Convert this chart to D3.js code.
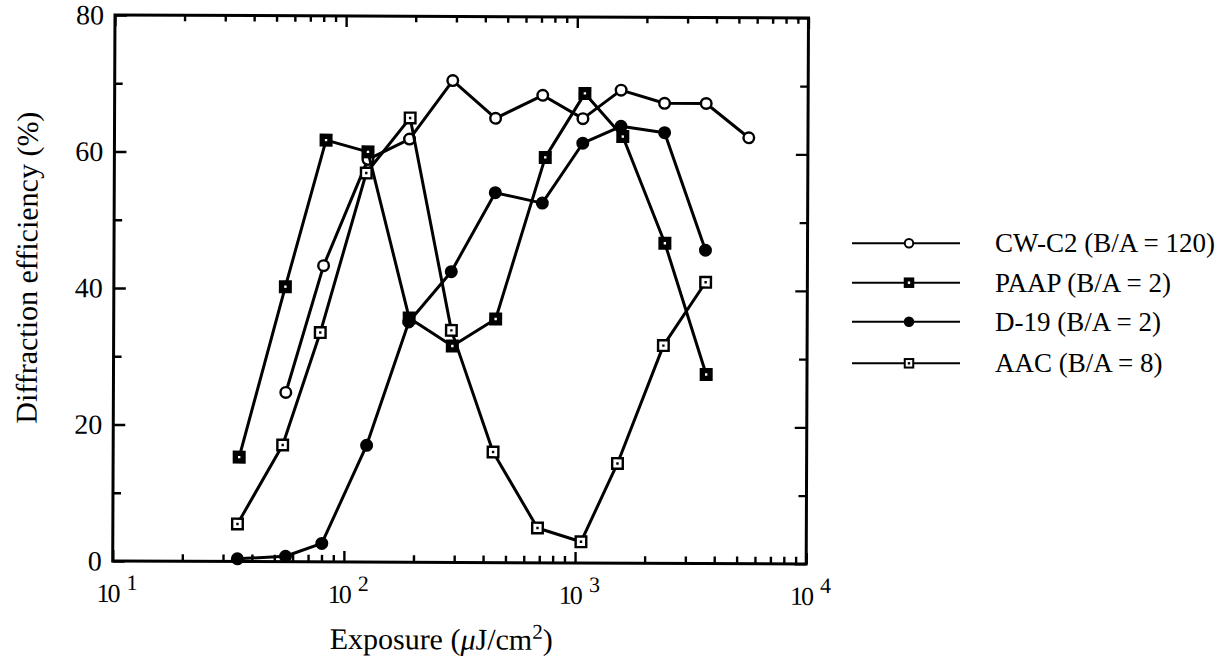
<!DOCTYPE html>
<html>
<head>
<meta charset="utf-8">
<script src="https://cdn.jsdelivr.net/npm/d3@7"></script>
<style>
  html, body { margin: 0; padding: 0; background: #fff; }
  svg { display: block; }
  text { font-family: "Liberation Serif", "Times New Roman", serif; fill: #000; }
</style>
</head>
<body>
<svg id="chart" width="1231" height="663"></svg>
<script>
// Exposure (µJ/cm²) and diffraction efficiency (%) for each material
const cwExposure   = [55.7, 80.7, 125, 189, 290, 445, 711, 1062, 1552, 2393, 3624, 5546];
const cwEfficiency = [24.8, 43.4, 59.0, 62.0, 70.6, 65.1, 68.5, 65.1, 69.3, 67.4, 67.4, 62.4];

const paapExposure   = [35.1, 55.2, 82.3, 125, 189.7, 292, 449, 731, 1082, 1581, 2415, 3664];
const paapEfficiency = [15.3, 40.3, 61.8, 60.1, 35.8, 31.7, 35.7, 59.4, 68.8, 62.5, 46.9, 27.7];

const d19Exposure   = [34.6, 55.9, 80.2, 124.8, 189, 288, 445, 711, 1062, 1552, 2397, 3620];
const d19Efficiency = [0.4, 0.8, 2.7, 17.1, 35.2, 42.6, 54.2, 52.7, 61.5, 64.0, 63.1, 45.9];

const aacExposure   = [34.6, 54.1, 78.3, 123, 190, 289, 440, 687, 1060, 1520, 2389, 3630];
const aacEfficiency = [5.5, 17.1, 33.6, 57.0, 65.1, 34.0, 16.2, 5.1, 3.1, 14.6, 31.9, 41.2];

const seriesNames = ["CW-C2 (B/A = 120)", "PAAP (B/A = 2)", "D-19 (B/A = 2)", "AAC (B/A = 8)"];
const markerKinds = ["openCircle", "filledSquare", "filledCircle", "openSquare"];

const xDomain = [10, 10000];
const yDomain = [0, 80];
const yTicks = [0, 10, 20, 30, 40, 50, 60, 70, 80];
const yLabelTicks = [0, 20, 40, 60, 80];
const xDecades = [10, 100, 1000, 10000];
const xExponents = ["1", "2", "3", "4"];
const yTitle = "Diffraction efficiency (%)";

const series = seriesNames.map((name, i) => ({
  name,
  kind: markerKinds[i],
  xs: [cwExposure, paapExposure, d19Exposure, aacExposure][i],
  ys: [cwEfficiency, paapEfficiency, d19Efficiency, aacEfficiency][i]
}));

const svg = d3.select("#chart");
const plotLeft = 112.7, plotRight = 806.2, plotTop = 15, plotBottom = 561;

const x = d3.scaleLog().domain(xDomain).range([plotLeft, plotRight]);
const y = d3.scaleLinear().domain(yDomain).range([plotBottom, plotTop]);

// the whole figure sits very slightly tilted
const root = svg.append("g").attr("transform", `rotate(0.24, ${plotLeft}, ${plotBottom})`);

// minor log ticks (2..9 within each decade)
const minorX = [];
for (let d = 10; d < 10000; d *= 10) for (let k = 2; k <= 9; k++) minorX.push(d * k);
const minorY = yTicks.filter(v => !yLabelTicks.includes(v));

function styleAxis(g) {
  g.select(".domain").remove();
  g.selectAll(".tick line").attr("stroke", "#000").attr("stroke-width", 2.4);
  g.selectAll(".tick text").remove();
}

root.append("g").attr("transform", `translate(0,${plotBottom})`)
  .call(d3.axisBottom(x).tickValues(xDecades).tickSize(-11).tickFormat("")).call(styleAxis);
root.append("g").attr("transform", `translate(0,${plotBottom})`)
  .call(d3.axisBottom(x).tickValues(minorX).tickSize(-7).tickFormat("")).call(styleAxis);
root.append("g").attr("transform", `translate(0,${plotTop})`)
  .call(d3.axisTop(x).tickValues(xDecades).tickSize(-11).tickFormat("")).call(styleAxis);
root.append("g").attr("transform", `translate(0,${plotTop})`)
  .call(d3.axisTop(x).tickValues(minorX).tickSize(-6).tickFormat("")).call(styleAxis);

root.append("g").attr("transform", `translate(${plotLeft},0)`)
  .call(d3.axisLeft(y).tickValues(yLabelTicks).tickSize(-12).tickFormat("")).call(styleAxis);
root.append("g").attr("transform", `translate(${plotLeft},0)`)
  .call(d3.axisLeft(y).tickValues(minorY).tickSize(-8).tickFormat("")).call(styleAxis);
root.append("g").attr("transform", `translate(${plotRight},0)`)
  .call(d3.axisRight(y).tickValues(yLabelTicks).tickSize(-12).tickFormat("")).call(styleAxis);
root.append("g").attr("transform", `translate(${plotRight},0)`)
  .call(d3.axisRight(y).tickValues(minorY).tickSize(-8).tickFormat("")).call(styleAxis);

// frame
root.append("rect")
  .attr("x", plotLeft).attr("y", plotTop)
  .attr("width", plotRight - plotLeft).attr("height", plotBottom - plotTop)
  .attr("fill", "none").attr("stroke", "#000").attr("stroke-width", 3);

// y tick labels
root.selectAll(".ylab").data(yLabelTicks).join("text")
  .attr("class", "ylab")
  .attr("x", plotLeft - 11).attr("y", d => y(d))
  .attr("dy", "0.34em")
  .attr("text-anchor", "end")
  .attr("font-size", 28)
  .text(d => d);

// x tick labels: 10 with superscript exponent
xDecades.forEach((d, i) => {
  root.append("text")
    .attr("x", x(d) - 16).attr("y", 602)
    .attr("font-size", 26)
    .attr("letter-spacing", -2)
    .text("10");
  root.append("text")
    .attr("x", x(d) + 14).attr("y", 590)
    .attr("font-size", 22)
    .text(xExponents[i]);
});

// axis titles
const xt = root.append("text")
  .attr("x", 330).attr("y", 648)
  .attr("font-size", 30);
xt.append("tspan").text("Exposure (");
xt.append("tspan").attr("font-style", "italic").text("\u03bc");
xt.append("tspan").text("J/cm");
xt.append("tspan").attr("font-size", 21).attr("dy", -11).text("2");
xt.append("tspan").attr("dy", 11).text(")");

root.append("text")
  .attr("transform", "translate(36,268) rotate(-90)")
  .attr("text-anchor", "middle")
  .attr("font-size", 30)
  .text(yTitle);

// markers
function drawMarker(g, kind, size, sw) {
  const s = size;
  if (kind === "openCircle") {
    g.append("circle").attr("r", (s - sw) / 2).attr("fill", "#fff").attr("stroke", "#000").attr("stroke-width", sw);
  } else if (kind === "filledCircle") {
    g.append("circle").attr("r", s / 2).attr("fill", "#000");
  } else if (kind === "filledSquare") {
    g.append("rect").attr("x", -s / 2).attr("y", -s / 2).attr("width", s).attr("height", s).attr("fill", "#000");
    g.append("rect").attr("x", -1.2).attr("y", -1.2).attr("width", 2.4).attr("height", 2.4).attr("fill", "#fff");
  } else if (kind === "openSquare") {
    g.append("rect").attr("x", -s / 2 + sw / 2).attr("y", -s / 2 + sw / 2)
      .attr("width", s - sw).attr("height", s - sw)
      .attr("fill", "#fff").attr("stroke", "#000").attr("stroke-width", sw);
    g.append("rect").attr("x", -1.2).attr("y", -1.2).attr("width", 2.4).attr("height", 2.4).attr("fill", "#000");
  }
}

const line = d3.line().x(d => x(d[0])).y(d => y(d[1]));

series.forEach(s => {
  const pts = s.xs.map((v, i) => [v, s.ys[i]]);
  const g = root.append("g");
  g.append("path").datum(pts)
    .attr("d", line)
    .attr("fill", "none").attr("stroke", "#000").attr("stroke-width", 3)
    .attr("stroke-linejoin", "round");
  g.selectAll("g.pt").data(pts).join("g")
    .attr("class", "pt")
    .attr("transform", d => `translate(${x(d[0])},${y(d[1])})`)
    .each(function () { drawMarker(d3.select(this), s.kind, 13, 2.4); });
});

// legend
const legendRows = [243.3, 282.7, 321.7, 363.3];
series.forEach((s, i) => {
  const g = svg.append("g").attr("transform", `translate(0,${legendRows[i]})`);
  g.append("line").attr("x1", 852).attr("x2", 960).attr("y1", 0).attr("y2", 0)
    .attr("stroke", "#000").attr("stroke-width", 2);
  drawMarker(g.append("g").attr("transform", "translate(909,0)"), s.kind, 10.5, 2);
  g.append("text").attr("x", 995).attr("y", 0).attr("dy", "0.33em")
    .attr("font-size", 27).text(s.name);
});
</script>
</body>
</html>
